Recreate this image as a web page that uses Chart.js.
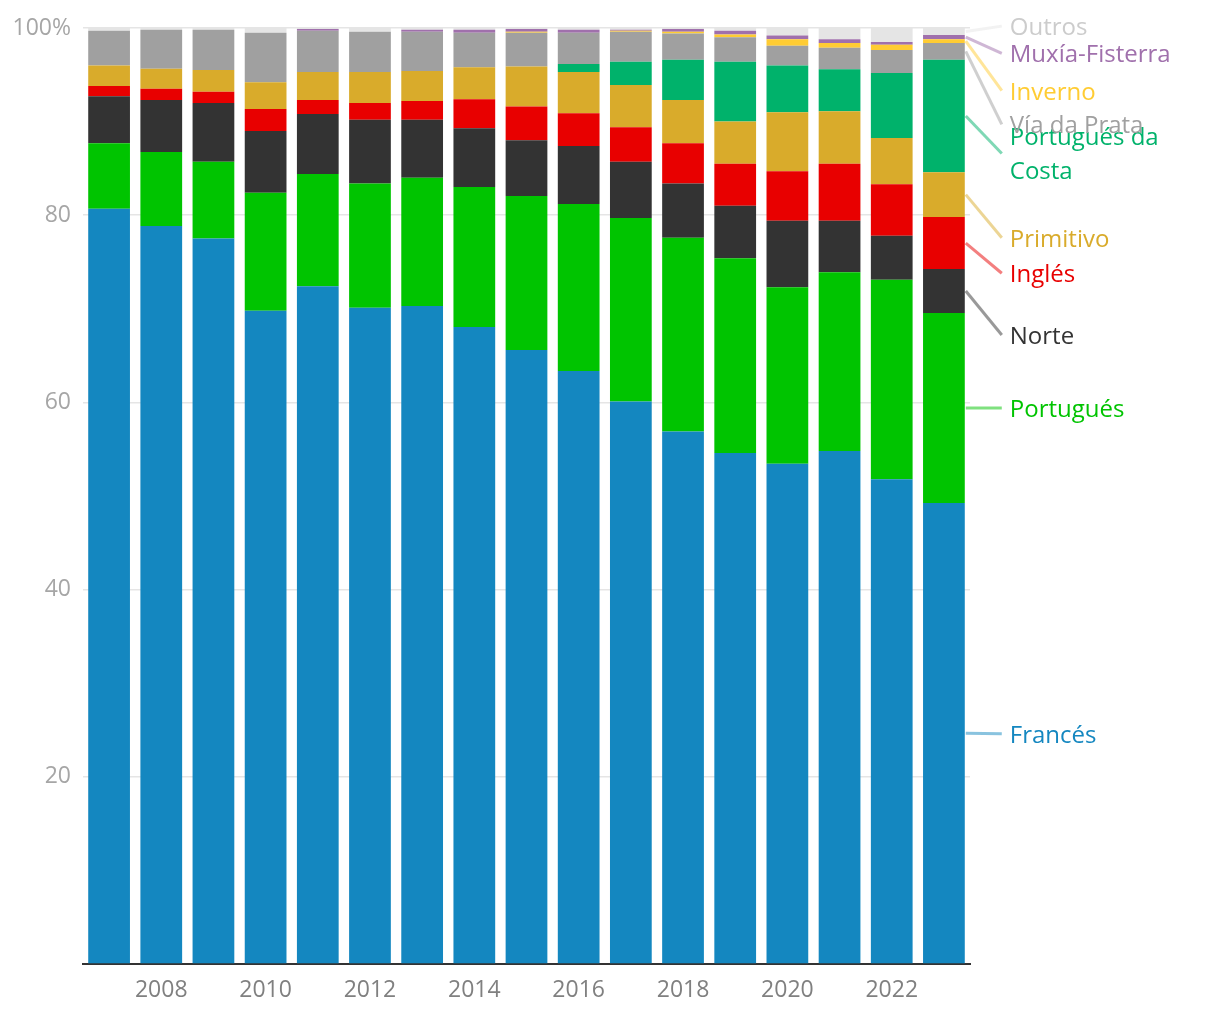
<!DOCTYPE html>
<html>
<head>
<meta charset="utf-8">
<script src="https://cdn.jsdelivr.net/npm/chart.js@4.4.1/dist/chart.umd.min.js"></script>
<style>
  html, body { margin: 0; padding: 0; background: #fff; }
  #wrap { width: 1220px; height: 1020px; position: relative; }
</style>
</head>
<body>
<div id="wrap"><canvas id="myChart" width="1220" height="1020"></canvas></div>
<script>
var years = ['2007','2008','2009','2010','2011','2012','2013','2014','2015','2016','2017','2018','2019','2020','2021','2022','2023'];

var frances    = [80.7, 78.85, 77.5, 69.8, 72.4, 70.1, 70.3, 68.05, 65.6, 63.35, 60.1, 56.9, 54.6, 53.45, 54.8, 51.8, 49.25];
var portugues  = [7.0, 7.9, 8.2, 12.6, 12.0, 13.3, 13.7, 14.95, 16.45, 17.85, 19.6, 20.7, 20.8, 18.85, 19.1, 21.3, 20.3];
var norte      = [5.0, 5.55, 6.3, 6.6, 6.4, 6.8, 6.2, 6.3, 5.95, 6.2, 6.0, 5.8, 5.6, 7.1, 5.5, 4.7, 4.7];
var ingles     = [1.1, 1.2, 1.2, 2.35, 1.5, 1.8, 2.0, 3.1, 3.6, 3.5, 3.7, 4.3, 4.5, 5.3, 6.1, 5.5, 5.55];
var primitivo  = [2.2, 2.15, 2.3, 2.85, 3.0, 3.3, 3.2, 3.4, 4.3, 4.4, 4.5, 4.6, 4.5, 6.3, 5.6, 4.95, 4.8];
var costa      = [0, 0, 0, 0, 0, 0, 0, 0, 0, 0.85, 2.5, 4.3, 6.4, 5.0, 4.5, 6.95, 12.0];
var prata      = [3.7, 4.15, 4.3, 5.3, 4.4, 4.3, 4.2, 3.7, 3.6, 3.35, 3.2, 2.8, 2.6, 2.1, 2.3, 2.45, 1.8];
var inverno    = [0, 0, 0, 0, 0, 0, 0, 0, 0.1, 0, 0.1, 0.2, 0.3, 0.7, 0.5, 0.55, 0.4];
var muxia      = [0, 0, 0, 0, 0.2, 0, 0.2, 0.3, 0.3, 0.3, 0.1, 0.3, 0.4, 0.4, 0.4, 0.3, 0.45];
var outros     = [0.3, 0.2, 0.2, 0.5, 0.1, 0.4, 0.2, 0.2, 0.1, 0.2, 0.2, 0.1, 0.3, 0.8, 1.2, 1.5, 0.75];

var names  = ['Francés', 'Portugués', 'Norte', 'Inglés', 'Primitivo', 'Portugués da Costa', 'Vía da Prata', 'Inverno', 'Muxía-Fisterra', 'Outros'];
var series = [frances, portugues, norte, ingles, primitivo, costa, prata, inverno, muxia, outros];
var colors = ['#1487c0', '#00c400', '#333333', '#e80000', '#d9ab2b', '#00b26b', '#a0a0a0', '#ffcc33', '#a070ac', '#e5e5e5'];
var textColors = ['#1487c0', '#00c400', '#333333', '#e80000', '#d9ab2b', '#00b26b', '#a0a0a0', '#ffcc33', '#a070ac', '#cccccc'];
// where each right-hand label sits, in axis units
var labelAt = [24.6, 59.4, 67.2, 73.8, 77.6, 86.6, 89.7, 93.3, 97.3, 100.2];

var datasets = [];
for (var i = 0; i < series.length; i++) {
    datasets.push({
        label: names[i],
        data: series[i],
        backgroundColor: colors[i],
        borderWidth: 0,
        barPercentage: 0.8,
        categoryPercentage: 1.0
    });
}

var endLabels = {
    id: 'endLabels',
    afterDatasetsDraw: function(chart) {
        var ctx = chart.ctx;
        var yScale = chart.scales.y;
        ctx.save();
        ctx.font = '24px "Open Sans"';
        ctx.textBaseline = 'middle';
        ctx.textAlign = 'left';
        for (var i = 0; i < chart.data.datasets.length; i++) {
            var meta = chart.getDatasetMeta(i);
            var el = meta.data[meta.data.length - 1];
            var x0 = el.x + el.width / 2 + 1;
            var y0 = (el.y + el.base) / 2;
            var x1 = x0 + 36;
            var y1 = yScale.getPixelForValue(labelAt[i]);
            ctx.globalAlpha = 0.5;
            ctx.strokeStyle = colors[i];
            ctx.lineWidth = 3;
            ctx.beginPath();
            ctx.moveTo(x0, y0);
            ctx.lineTo(x1, y1);
            ctx.stroke();
            ctx.globalAlpha = 1;
            ctx.fillStyle = textColors[i];
            if (names[i] == 'Portugués da Costa') {
                ctx.fillText('Portugués da', x1 + 8, y1 - 15);
                ctx.fillText('Costa', x1 + 8, y1 + 19);
            } else {
                ctx.fillText(names[i], x1 + 8, y1 + 2);
            }
        }
        ctx.restore();
    }
};

const ctx = document.getElementById('myChart');
chart = new Chart(ctx, {
    type: 'bar',
    data: {
        labels: years,
        datasets: datasets
    },
    options: {
        responsive: false,
        animation: false,
        layout: {
            padding: { top: 28, right: 250, left: 0, bottom: 0 }
        },
        plugins: {
            legend: { display: false },
            tooltip: { enabled: false }
        },
        scales: {
            x: {
                stacked: true,
                grid: { display: false, drawTicks: false },
                border: { display: true, color: '#333333', width: 2 },
                ticks: {
                    autoSkip: false,
                    maxRotation: 0,
                    padding: 13,
                    color: '#808080',
                    font: { family: 'Open Sans', size: 23 },
                    callback: function(val, index) {
                        var lab = this.getLabelForValue(val);
                        return parseInt(lab) % 2 === 0 ? lab : '';
                    }
                },
                afterFit: function(scale) { scale.height = 56; }
            },
            y: {
                stacked: true,
                min: 0,
                max: 100,
                grid: { color: '#e5e5e5', lineWidth: 1.5, drawTicks: false },
                border: { display: false },
                ticks: {
                    stepSize: 20,
                    padding: 12,
                    color: '#a6a6a6',
                    font: { family: 'Open Sans', size: 23 },
                    callback: function(val) {
                        if (val === 0) return '';
                        return val === 100 ? '100%' : val;
                    }
                },
                afterFit: function(scale) { scale.width = 83; }
            }
        }
    },
    plugins: [endLabels]
});
</script>
</body>
</html>
